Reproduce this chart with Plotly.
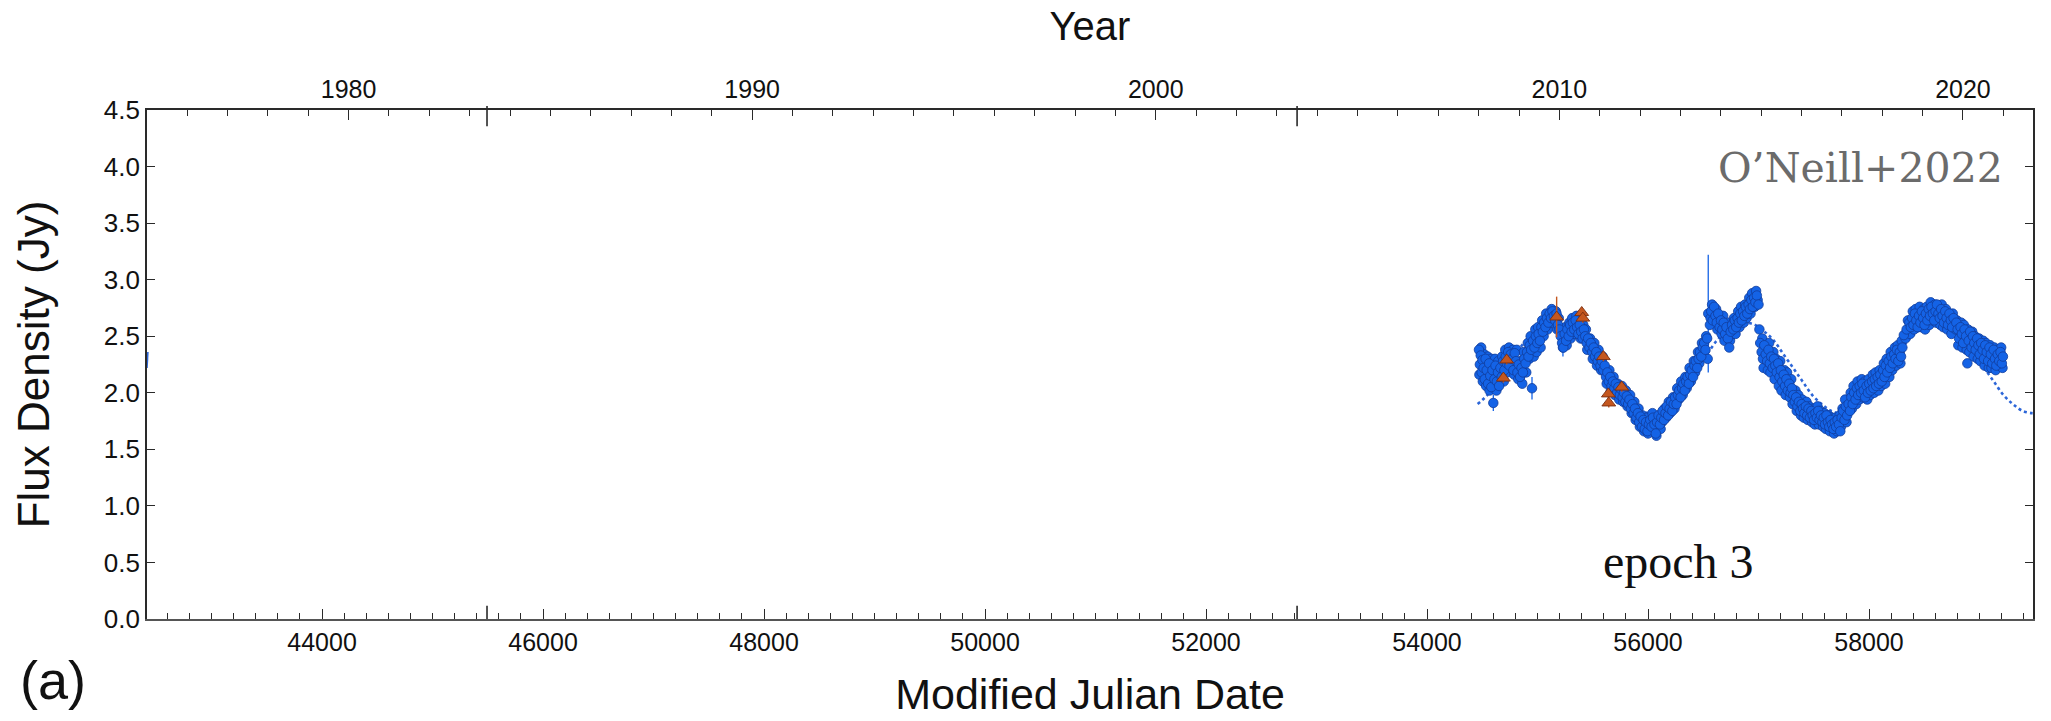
import plotly.graph_objects as go

# ---------------- data (MJD, flux density in Jy) ----------------
# OVRO 15 GHz monitoring points
blue_mjd = [
    54470, 54478, 54486, 54494, 54502, 54512, 54522, 54530, 54540, 54552, 54562, 54572, 54582, 54592,
    54610, 54620, 54632, 54642, 54652, 54664, 54676, 54688, 54700, 54712, 54722, 54734, 54746, 54758,
    54770, 54782, 54794, 54806, 54818, 54830, 54842, 54855, 54868, 54880, 54892, 54905, 54918, 54930,
    54942, 54960, 54972, 54985, 54998, 55010, 55022, 55035, 55048, 55060, 55072, 55085, 55098, 55110,
    55122, 55135, 55148, 55160, 55172, 55185, 55198, 55210, 55222, 55234, 55246, 55258, 55270, 55282,
    55295, 55308, 55320, 55332, 55345, 55358, 55370, 55382, 55395, 55408, 55420, 55432, 55445, 55458,
    55470, 55482, 55495, 55508, 55520, 55532, 55545, 55558, 55570, 55582, 55595, 55608, 55620, 55632,
    55645, 55658, 55670, 55682, 55695, 55708, 55720, 55732, 55745, 55758, 55770, 55782, 55795, 55808,
    55820, 55832, 55845, 55858, 55870, 55882, 55895, 55908, 55920, 55932, 55945, 55958, 55970, 55982,
    55995, 56008, 56020, 56032, 56045, 56058, 56070, 56082, 56095, 56108, 56120, 56132, 56145, 56158,
    56170, 56182, 56195, 56208, 56220, 56232, 56245, 56258, 56270, 56282, 56295, 56308, 56320, 56332,
    56345, 56358, 56370, 56382, 56395, 56408, 56420, 56432, 56445, 56458, 56470, 56482, 56495, 56508,
    56520, 56535, 56560, 56572, 56585, 56598, 56610, 56622, 56635, 56648, 56660, 56672, 56685, 56698,
    56710, 56722, 56735, 56748, 56760, 56772, 56785, 56798, 56810, 56822, 56835, 56848, 56860, 56872,
    56885, 56898, 56910, 56922, 56935, 56948, 56960, 56972, 56985, 57000, 57015, 57028, 57040, 57052,
    57065, 57078, 57090, 57102, 57115, 57128, 57140, 57152, 57165, 57178, 57190, 57202, 57215, 57228,
    57240, 57252, 57265, 57278, 57290, 57302, 57315, 57328, 57340, 57352, 57365, 57378, 57390, 57402,
    57415, 57428, 57440, 57452, 57465, 57478, 57490, 57502, 57515, 57528, 57540, 57552, 57565, 57578,
    57590, 57602, 57615, 57628, 57640, 57652, 57665, 57678, 57690, 57702, 57715, 57728, 57740, 57752,
    57765, 57778, 57790, 57802, 57815, 57828, 57840, 57852, 57865, 57878, 57890, 57902, 57915, 57928,
    57940, 57952, 57965, 57978, 57990, 58002, 58015, 58028, 58040, 58052, 58065, 58078, 58090, 58102,
    58115, 58128, 58140, 58152, 58165, 58178, 58190, 58202, 58215, 58228, 58240, 58252, 58265, 58278,
    58290, 58302, 58315, 58340, 58365, 58378, 58390, 58402, 58415, 58428, 58440, 58452, 58465, 58478,
    58490, 58502, 58515, 58528, 58540, 58552, 58565, 58578, 58590, 58602, 58615, 58628, 58640, 58652,
    58665, 58678, 58690, 58702, 58715, 58728, 58740, 58752, 58765, 58790, 58802, 58815, 58828, 58840,
    58852, 58865, 58878, 58890, 58902, 58915, 58928, 58940, 58952, 58965, 58978, 58990, 59002, 59015,
    59028, 59040, 59052, 59065, 59078, 59090, 59102, 59115, 59128, 59140, 59152, 59165, 59178, 59190,
    59202, 59212,
]
blue_flux = [
    2.38, 2.25, 2.33, 2.18, 2.29, 2.22, 2.12, 2.30, 2.20, 2.08, 2.26, 2.15, 2.05, 2.20,
    2.12, 2.24, 2.10, 2.18, 2.06, 2.22, 2.14, 2.28, 2.20, 2.32, 2.26, 2.36, 2.24, 2.34,
    2.30, 2.20, 2.35, 2.28, 2.18, 2.25, 2.14, 2.22, 2.18, 2.30, 2.26, 2.36, 2.32, 2.42,
    2.38, 2.46, 2.40, 2.50, 2.44, 2.52, 2.46, 2.58, 2.54, 2.62, 2.58, 2.66, 2.62, 2.70,
    2.66, 2.72, 2.68, 2.64, 2.70, 2.60, 2.56, 2.50, 2.44, 2.40, 2.52, 2.46, 2.56, 2.50,
    2.60, 2.54, 2.62, 2.56, 2.64, 2.58, 2.52, 2.60, 2.54, 2.48, 2.56, 2.50, 2.44, 2.48,
    2.40, 2.44, 2.36, 2.40, 2.32, 2.36, 2.28, 2.32, 2.24, 2.28, 2.20, 2.24, 2.14, 2.18,
    2.10, 2.14, 2.06, 2.10, 2.04, 2.08, 2.00, 2.05, 1.98, 2.03, 1.96, 2.00, 1.92, 1.97,
    1.90, 1.94, 1.86, 1.90, 1.82, 1.86, 1.78, 1.82, 1.74, 1.79, 1.70, 1.76, 1.68, 1.74,
    1.66, 1.72, 1.76, 1.70, 1.78, 1.72, 1.64, 1.74, 1.80, 1.72, 1.78, 1.84, 1.76, 1.82,
    1.88, 1.80, 1.86, 1.92, 1.84, 1.90, 1.96, 1.90, 1.98, 2.02, 1.96, 2.04, 2.08, 2.02,
    2.10, 2.14, 2.08, 2.16, 2.20, 2.14, 2.24, 2.28, 2.22, 2.30, 2.36, 2.32, 2.40, 2.44,
    2.38, 2.48, 2.60, 2.72, 2.64, 2.76, 2.68, 2.62, 2.70, 2.58, 2.64, 2.56, 2.62, 2.52,
    2.58, 2.48, 2.40, 2.54, 2.60, 2.56, 2.64, 2.58, 2.66, 2.62, 2.70, 2.64, 2.72, 2.68,
    2.76, 2.70, 2.78, 2.74, 2.82, 2.76, 2.84, 2.80, 2.86, 2.78, 2.44, 2.36, 2.30, 2.42,
    2.34, 2.28, 2.38, 2.26, 2.32, 2.22, 2.30, 2.24, 2.18, 2.26, 2.14, 2.20, 2.10, 2.16,
    2.06, 2.12, 2.02, 2.08, 2.00, 2.04, 1.98, 1.92, 1.96, 1.88, 1.92, 1.84, 1.90, 1.86,
    1.82, 1.88, 1.80, 1.86, 1.78, 1.84, 1.80, 1.76, 1.82, 1.78, 1.84, 1.76, 1.80, 1.74,
    1.78, 1.72, 1.80, 1.74, 1.70, 1.76, 1.72, 1.68, 1.74, 1.70, 1.76, 1.72, 1.66, 1.78,
    1.84, 1.76, 1.88, 1.80, 1.90, 1.84, 1.96, 1.90, 2.00, 1.94, 2.04, 1.98, 2.06, 2.00,
    2.08, 2.02, 1.96, 2.06, 2.00, 2.08, 2.02, 2.10, 2.04, 2.12, 2.06, 2.14, 2.08, 2.16,
    2.10, 2.20, 2.14, 2.24, 2.18, 2.28, 2.22, 2.32, 2.26, 2.34, 2.30, 2.38, 2.28, 2.36,
    2.32, 2.40, 2.51, 2.56, 2.62, 2.58, 2.66, 2.60, 2.70, 2.64, 2.58, 2.68, 2.62, 2.72,
    2.66, 2.60, 2.70, 2.64, 2.74, 2.68, 2.76, 2.70, 2.64, 2.72, 2.78, 2.70, 2.66, 2.74,
    2.68, 2.62, 2.72, 2.66, 2.60, 2.70, 2.64, 2.58, 2.66, 2.62, 2.56, 2.48, 2.58, 2.52,
    2.44, 2.56, 2.50, 2.26, 2.46, 2.54, 2.40, 2.50, 2.44, 2.38, 2.48, 2.42, 2.34, 2.44,
    2.38, 2.30, 2.42, 2.36, 2.28, 2.40, 2.34, 2.26, 2.38, 2.30, 2.24, 2.34, 2.28, 2.36,
    2.26, 2.32,
]

# further OVRO points filling out the spread of the light curve
blue2_mjd = [
    54474, 54490, 54505, 54518, 54535, 54548, 54566, 54580, 54596, 54615, 54628, 54645, 54660, 54680,
    54695, 54708, 54728, 54742, 54762, 54778, 54790, 54812, 54826, 54848, 54862, 54875, 54898, 54912,
    54925, 54938, 54966, 54980, 54992, 55005, 55028, 55042, 55055, 55078, 55092, 55115, 55128, 55142,
    55166, 55178, 55192, 55216, 55240, 55252, 55264, 55288, 55300, 55314, 55338, 55352, 55376, 55390,
    55414, 55438, 55450, 55476, 55500, 55514, 55538, 55552, 55576, 55590, 55614, 55626, 55650, 55664,
    55688, 55702, 55726, 55740, 55764, 55776, 55800, 55814, 55838, 55852, 55876, 55888, 55914, 55926,
    55950, 55964, 55988, 56000, 56026, 56040, 56064, 56076, 56090, 56114, 56126, 56150, 56164, 56188,
    56200, 56226, 56240, 56264, 56276, 56300, 56314, 56338, 56350, 56376, 56388, 56414, 56426, 56452,
    56464, 56488, 56500, 56526, 56540, 56566, 56580, 56592, 56616, 56628, 56642, 56666, 56680, 56692,
    56716, 56728, 56742, 56766, 56778, 56792, 56816, 56828, 56842, 56866, 56878, 56892, 56916, 56928,
    56942, 56966, 56978, 56992, 57008, 57034, 57046, 57058, 57084, 57096, 57108, 57134, 57146, 57158,
    57184, 57196, 57208, 57234, 57246, 57258, 57284, 57296, 57308, 57334, 57346, 57360, 57384, 57396,
    57410, 57434, 57446, 57460, 57484, 57496, 57510, 57534, 57546, 57560, 57584, 57596, 57610, 57634,
    57646, 57660, 57684, 57696, 57710, 57734, 57746, 57760, 57784, 57796, 57810, 57834, 57846, 57860,
    57884, 57896, 57910, 57934, 57946, 57960, 57984, 57996, 58010, 58034, 58046, 58060, 58084, 58096,
    58110, 58134, 58146, 58160, 58184, 58196, 58210, 58234, 58246, 58260, 58284, 58296, 58330, 58352,
    58372, 58396, 58408, 58422, 58446, 58458, 58472, 58496, 58508, 58522, 58546, 58558, 58572, 58596,
    58608, 58622, 58646, 58658, 58672, 58696, 58708, 58722, 58746, 58758, 58784, 58796, 58808, 58834,
    58846, 58858, 58884, 58896, 58908, 58934, 58946, 58958, 58984, 58996, 59008, 59034, 59046, 59058,
    59084, 59096, 59108, 59134, 59146, 59158, 59184, 59196, 59208,
]
blue2_flux = [
    2.16, 2.40, 2.10, 2.34, 2.06, 2.32, 2.02, 2.30, 2.12, 2.30, 2.02, 2.28, 2.12, 2.32,
    2.10, 2.38, 2.18, 2.40, 2.22, 2.38, 2.16, 2.38, 2.12, 2.28, 2.08, 2.36, 2.18, 2.44,
    2.30, 2.50, 2.32, 2.56, 2.36, 2.58, 2.40, 2.64, 2.50, 2.70, 2.56, 2.62, 2.74, 2.62,
    2.72, 2.56, 2.66, 2.56, 2.46, 2.58, 2.42, 2.62, 2.48, 2.66, 2.52, 2.68, 2.62, 2.48,
    2.60, 2.56, 2.38, 2.48, 2.30, 2.44, 2.24, 2.38, 2.20, 2.32, 2.20, 2.08, 2.20, 2.02,
    2.14, 1.98, 2.08, 1.94, 2.06, 1.92, 2.02, 1.88, 1.98, 1.82, 1.92, 1.76, 1.86, 1.70,
    1.80, 1.66, 1.78, 1.64, 1.68, 1.82, 1.70, 1.62, 1.76, 1.68, 1.74, 1.86, 1.78, 1.92,
    1.82, 1.96, 1.86, 2.04, 1.94, 2.10, 1.98, 2.14, 2.04, 2.22, 2.10, 2.28, 2.18, 2.36,
    2.26, 2.44, 2.34, 2.50, 2.30, 2.66, 2.78, 2.62, 2.74, 2.56, 2.66, 2.52, 2.68, 2.46,
    2.52, 2.62, 2.46, 2.52, 2.66, 2.52, 2.72, 2.58, 2.76, 2.62, 2.78, 2.66, 2.84, 2.70,
    2.88, 2.76, 2.90, 2.82, 2.56, 2.48, 2.22, 2.36, 2.20, 2.44, 2.18, 2.36, 2.12, 2.30,
    2.06, 2.28, 2.02, 2.20, 1.98, 2.18, 1.96, 2.12, 1.90, 2.02, 1.84, 1.98, 1.80, 1.94,
    1.78, 1.92, 1.76, 1.88, 1.74, 1.86, 1.72, 1.88, 1.72, 1.84, 1.70, 1.82, 1.68, 1.80,
    1.66, 1.78, 1.64, 1.78, 1.66, 1.80, 1.70, 1.86, 1.94, 1.74, 1.84, 2.00, 1.86, 2.06,
    1.90, 2.10, 1.94, 2.12, 1.96, 2.10, 1.94, 2.12, 1.98, 2.16, 2.00, 2.18, 2.02, 2.20,
    2.06, 2.26, 2.08, 2.30, 2.14, 2.36, 2.20, 2.40, 2.24, 2.42, 2.26, 2.46, 2.48, 2.64,
    2.52, 2.72, 2.56, 2.74, 2.62, 2.76, 2.58, 2.74, 2.56, 2.76, 2.60, 2.80, 2.64, 2.78,
    2.62, 2.74, 2.60, 2.78, 2.58, 2.74, 2.56, 2.64, 2.52, 2.70, 2.56, 2.64, 2.42, 2.62,
    2.40, 2.60, 2.38, 2.56, 2.36, 2.54, 2.32, 2.50, 2.30, 2.48, 2.28, 2.46, 2.24, 2.44,
    2.22, 2.42, 2.22, 2.40, 2.20, 2.38, 2.24, 2.40, 2.22,
]

# points whose error bars stand out of the cloud
err_mjd = [54600, 54950, 54842, 55200, 55230, 56545]
err_flux = [1.91, 2.04, 2.14, 2.56, 2.40, 2.70]
err_size = [0.07, 0.10, 0.08, 0.08, 0.08, 0.52]

# single-dish points from the other telescope (triangles)
tri_mjd = [54691, 54721, 55173, 55400, 55410, 55596, 55641, 55645, 55762]
tri_flux = [2.13, 2.29, 2.67, 2.71, 2.66, 2.32, 1.99, 1.91, 2.05]
tri_err = [0.04, 0.04, 0.18, 0.04, 0.04, 0.04, 0.04, 0.04, 0.04]

# sinusoidal model curve (dotted)
model_mjd = [54458, 54545, 54631, 54718, 54804, 54891, 54977, 55064, 55150, 55237, 55323, 55410,
             55496, 55583, 55669, 55756, 55842, 55929, 56015, 56102, 56188, 56275, 56361, 56448,
             56534, 56621, 56707, 56794, 56880, 56967, 57053, 57140, 57226, 57313, 57399, 57486,
             57572, 57659, 57745, 57832, 57918, 58005, 58091, 58178, 58264, 58351, 58437, 58524,
             58610, 58697, 58783, 58870, 58956, 59043, 59129, 59216, 59302, 59389, 59475, 59500]
model_flux = [1.90, 1.98, 2.10, 2.22, 2.34, 2.46, 2.54, 2.60, 2.62, 2.60, 2.54, 2.46,
              2.34, 2.22, 2.10, 1.98, 1.90, 1.84, 1.82, 1.84, 1.90, 1.98, 2.10, 2.22,
              2.34, 2.46, 2.54, 2.60, 2.62, 2.60, 2.54, 2.46, 2.34, 2.22, 2.10, 1.98,
              1.90, 1.84, 1.82, 1.84, 1.90, 1.98, 2.10, 2.22, 2.34, 2.46, 2.54, 2.60,
              2.62, 2.60, 2.54, 2.46, 2.34, 2.22, 2.10, 1.98, 1.90, 1.84, 1.82, 1.82]

# short stroke of the earlier-epoch curve at the left edge
edge_mjd = [42416, 42424]
edge_flux = [2.22, 2.36]

# epoch boundaries (long ticks on both time axes)
epoch_edges = [45493, 52824]

# axes
mjd_range = [42416, 59484]
mjd_ticks = [44000, 46000, 48000, 50000, 52000, 54000, 56000, 58000]
year_ticks = [1980, 1990, 2000, 2010, 2020]
flux_ticks = [0.0, 0.5, 1.0, 1.5, 2.0, 2.5, 3.0, 3.5, 4.0, 4.5]


def mjd_to_year(m):
    return 1858.877 + m / 365.25


BLUE = "#1463e6"
BLUE_EDGE = "#123c9a"
ORANGE = "#c4571f"
AXIS = "#2a2a2a"
SANS = "Liberation Sans, Arial, Helvetica, sans-serif"
MARKER = dict(size=9.5, color=BLUE, line=dict(color=BLUE_EDGE, width=0.8))

fig = go.Figure()

fig.add_trace(go.Scatter(
    x=model_mjd, y=model_flux, mode="lines", line_shape="spline",
    line=dict(color="#2c66d8", width=2.6, dash="dot"),
    showlegend=False, hoverinfo="skip"))

fig.add_trace(go.Scatter(
    x=edge_mjd, y=edge_flux, mode="lines",
    line=dict(color="#2c66d8", width=1.6),
    showlegend=False, hoverinfo="skip"))

fig.add_trace(go.Scatter(
    x=err_mjd, y=err_flux, mode="markers", marker=MARKER,
    error_y=dict(type="data", array=err_size, color=BLUE, thickness=1.3, width=0),
    showlegend=False))

fig.add_trace(go.Scatter(x=blue2_mjd, y=blue2_flux, mode="markers", marker=MARKER, showlegend=False))
fig.add_trace(go.Scatter(x=blue_mjd, y=blue_flux, mode="markers", marker=MARKER, showlegend=False))

fig.add_trace(go.Scatter(
    x=tri_mjd, y=tri_flux, mode="markers",
    marker=dict(symbol="triangle-up", size=12, color=ORANGE, line=dict(color="#7a2e10", width=0.9)),
    error_y=dict(type="data", array=tri_err, color=ORANGE, thickness=1.4, width=0),
    showlegend=False))

# carrier for the calendar-year axis on top
fig.add_trace(go.Scatter(
    x=[mjd_to_year(mjd_range[0]), mjd_to_year(mjd_range[1])], y=[None, None],
    xaxis="x2", yaxis="y", mode="lines", showlegend=False, hoverinfo="skip"))

for m in epoch_edges:
    fig.add_shape(type="line", xref="x", yref="paper", x0=m, x1=m, y0=1.008, y1=0.968,
                  line=dict(color=AXIS, width=1.6))
    fig.add_shape(type="line", xref="x", yref="paper", x0=m, x1=m, y0=0.0, y1=0.026,
                  line=dict(color=AXIS, width=1.6))

fig.update_layout(
    width=2051, height=721,
    margin=dict(l=147, r=18, t=110, b=102),
    paper_bgcolor="white", plot_bgcolor="white",
    font=dict(family=SANS, color="#111"),
    xaxis=dict(
        range=mjd_range, tickmode="array", tickvals=mjd_ticks, tickformat="d",
        ticks="inside", ticklen=10, tickwidth=1.3, tickcolor=AXIS,
        minor=dict(ticks="inside", ticklen=6, tickwidth=1.1, tickcolor=AXIS, dtick=200, tick0=44000),
        showline=True, linecolor="#555", linewidth=2, showgrid=False, zeroline=False,
        tickfont=dict(size=25, family=SANS, color="#111"),
        title=dict(text="Modified Julian Date", font=dict(size=43, family=SANS, color="#111"), standoff=24),
    ),
    xaxis2=dict(
        overlaying="x", side="top", anchor="y",
        range=[mjd_to_year(mjd_range[0]), mjd_to_year(mjd_range[1])],
        tickmode="array", tickvals=year_ticks,
        ticks="inside", ticklen=10, tickwidth=1.3, tickcolor=AXIS,
        minor=dict(ticks="inside", ticklen=6, tickwidth=1.1, tickcolor=AXIS, dtick=1, tick0=1980),
        showline=True, linecolor=AXIS, linewidth=1.6, showgrid=False, zeroline=False,
        tickfont=dict(size=25, family=SANS, color="#111"),
        title=dict(text="Year", font=dict(size=40, family=SANS, color="#111"), standoff=22),
    ),
    yaxis=dict(
        range=[0, 4.5], tickmode="array", tickvals=flux_ticks, tickformat=".1f",
        ticks="inside", ticklen=8, tickwidth=1.3, tickcolor=AXIS,
        showline=True, linecolor=AXIS, linewidth=1.8, mirror="ticks",
        showgrid=False, zeroline=False,
        tickfont=dict(size=26, family=SANS, color="#111"),
        title=dict(text="Flux Density (Jy)", font=dict(size=44, family=SANS, color="#111"), standoff=40),
    ),
    annotations=[
        dict(text="O\u2019Neill+2022", xref="paper", yref="paper", x=0.985, y=0.886,
             xanchor="right", yanchor="middle", showarrow=False,
             font=dict(family="DejaVu Serif, serif", size=41, color="#6b6b6b")),
        dict(text="epoch 3", xref="paper", yref="paper", x=0.812, y=0.112,
             xanchor="center", yanchor="middle", showarrow=False,
             font=dict(family="Liberation Serif, Times New Roman, serif", size=48, color="#111")),
        dict(text="(a)", xref="paper", yref="paper", x=-0.05, y=-0.12,
             xanchor="center", yanchor="middle", showarrow=False,
             font=dict(family=SANS, size=54, color="#111")),
    ],
)

fig.write_html("out.html")
